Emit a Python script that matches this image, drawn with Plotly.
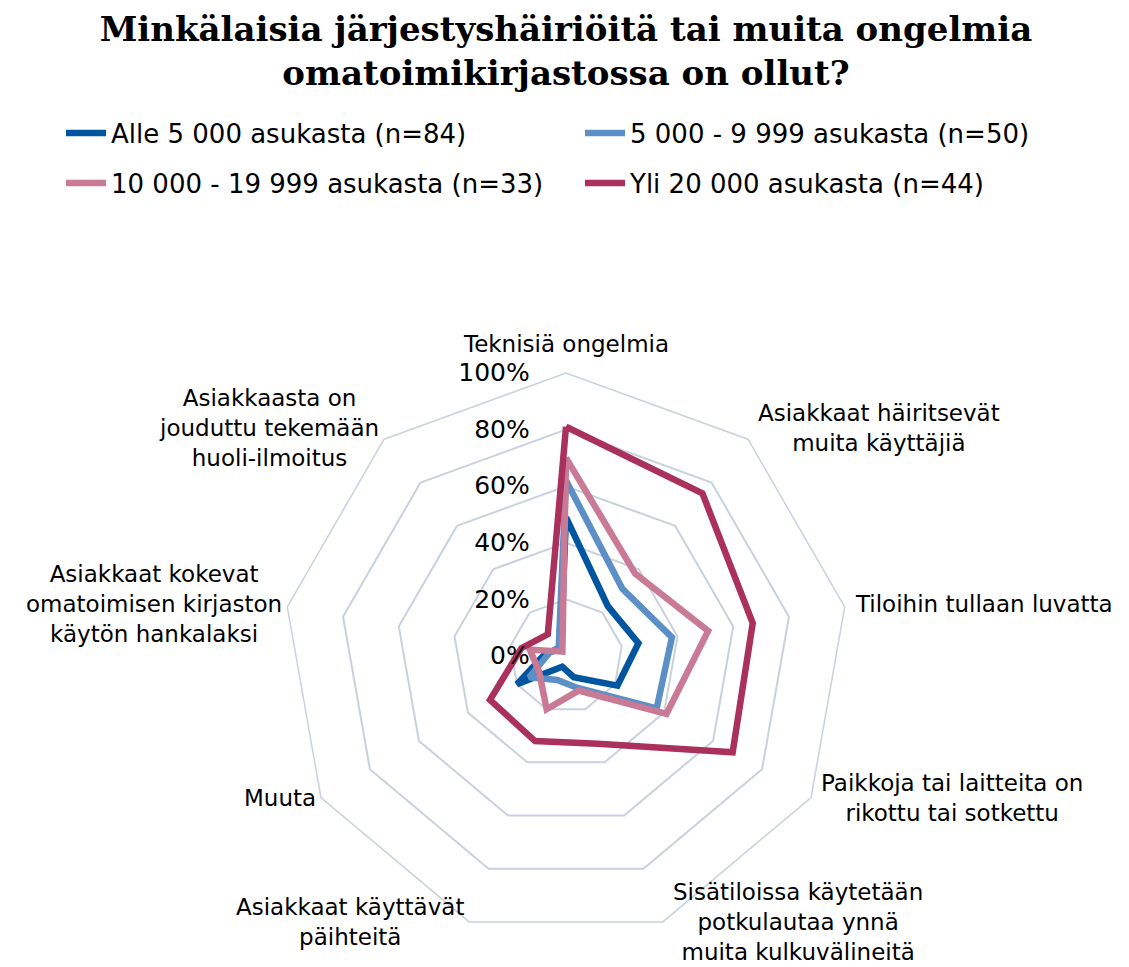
import math
import plotly.graph_objects as go

categories = [
    "Teknisiä ongelmia",
    "Asiakkaat häiritsevät muita käyttäjiä",
    "Tiloihin tullaan luvatta",
    "Paikkoja tai laitteita on rikottu tai sotkettu",
    "Sisätiloissa käytetään potkulautaa ynnä muita kulkuvälineitä",
    "Asiakkaat käyttävät päihteitä",
    "Muuta",
    "Asiakkaat kokevat omatoimisen kirjaston käytön hankalaksi",
    "Asiakkaasta on jouduttu tekemään huoli-ilmoitus",
]
category_labels = [
    "Teknisiä ongelmia",
    "Asiakkaat häiritsevät<br>muita käyttäjiä",
    "Tiloihin tullaan luvatta",
    "Paikkoja tai laitteita on<br>rikottu tai sotkettu",
    "Sisätiloissa käytetään<br>potkulautaa ynnä<br>muita kulkuvälineitä",
    "Asiakkaat käyttävät<br>päihteitä",
    "Muuta",
    "Asiakkaat kokevat<br>omatoimisen kirjaston<br>käytön hankalaksi",
    "Asiakkaasta on<br>jouduttu tekemään<br>huoli-ilmoitus",
]

series_names = [
    "Alle 5 000 asukasta (n=84)",
    "5 000 - 9 999 asukasta (n=50)",
    "10 000 - 19 999 asukasta (n=33)",
    "Yli 20 000 asukasta (n=44)",
]
alle_5000 = [0.49, 0.23, 0.26, 0.21, 0.08, 0.04, 0.20, 0.07, 0.03]
v_5000_9999 = [0.62, 0.31, 0.38, 0.37, 0.12, 0.09, 0.15, 0.06, 0.04]
v_10000_19999 = [0.70, 0.38, 0.51, 0.41, 0.13, 0.20, 0.11, 0.13, 0.02]
yli_20000 = [0.81, 0.75, 0.67, 0.68, 0.33, 0.32, 0.31, 0.16, 0.10]
series_values = [alle_5000, v_5000_9999, v_10000_19999, yli_20000]
series_colors = ["#0055A0", "#5B8FC6", "#C97A95", "#A9315B"]

radial_tickvals = [0, 0.2, 0.4, 0.6, 0.8, 1.0]
radial_ticktext = ["0%", "20%", "40%", "60%", "80%", "100%"]

grid_color = "#C9D1DD"
W, H = 1129, 967
cx, cy, R = 566, 656, 283

# one legend per entry: 2 columns x 2 rows
legend_ids = ["legend", "legend2", "legend3", "legend4"]
legend_x_px = [61, 580, 61, 580]
legend_y_px = [133, 133, 183, 183]

fig = go.Figure()
for name, vals, col, lg in zip(series_names, series_values, series_colors, legend_ids):
    fig.add_trace(go.Scatterpolar(
        r=vals + [vals[0]],
        theta=categories + [categories[0]],
        mode="lines",
        name=name,
        line=dict(color=col, width=6.5),
        legend=lg,
        showlegend=True,
    ))

legend_layouts = {}
for lg, lx, ly in zip(legend_ids, legend_x_px, legend_y_px):
    legend_layouts[lg] = dict(
        x=lx / W, y=1 - ly / H, xanchor="left", yanchor="middle",
        orientation="h", itemwidth=40,
        font=dict(family="DejaVu Sans", size=26, color="black"),
        bgcolor="rgba(0,0,0,0)",
    )

# category labels placed next to the outer polygon vertices
annotations = []
n = len(categories)
for k, lab in enumerate(category_labels):
    th = math.radians(360 * k / n)
    vx = cx + R * math.sin(th)
    vy = cy - R * math.cos(th)
    if k == 0:
        ax_, ay_, xa, ya = vx, vy - 14, "center", "bottom"
    elif math.sin(th) > 0:
        ax_, ay_, xa, ya = vx + 8, vy - 14 * max(math.cos(th), 0), "left", "middle"
    else:
        ax_, ay_, xa, ya = vx - 3, vy - 14 * max(math.cos(th), 0), "right", "middle"
    annotations.append(dict(
        text=lab, x=ax_ / W, y=1 - ay_ / H, xref="paper", yref="paper",
        xanchor=xa, yanchor=ya, align="center", showarrow=False,
        font=dict(family="DejaVu Sans", size=23, color="black"),
    ))

fig.update_layout(
    width=W, height=H,
    margin=dict(l=0, r=0, t=0, b=0),
    paper_bgcolor="white",
    showlegend=True,
    font=dict(family="DejaVu Sans", color="black"),
    title=dict(
        text="<b>Minkälaisia järjestyshäiriöitä tai muita ongelmia<br>omatoimikirjastossa on ollut?</b>",
        x=cx / W, xanchor="center", xref="paper",
        y=1 - 41 / H, yanchor="top", yref="container",
        font=dict(family="DejaVu Serif", size=34, color="black"),
    ),
    annotations=annotations,
    polar=dict(
        domain=dict(x=[(cx - R) / W, (cx + R) / W], y=[(H - cy - R) / H, (H - cy + R) / H]),
        gridshape="linear",
        bgcolor="white",
        angularaxis=dict(
            rotation=90, direction="clockwise",
            showgrid=False, showline=True, linecolor=grid_color, linewidth=1.5,
            ticks="", showticklabels=False,
        ),
        radialaxis=dict(
            range=[0, 1], tickmode="array", tickvals=radial_tickvals, ticktext=radial_ticktext,
            showline=False, showgrid=True, gridcolor=grid_color, gridwidth=1.5,
            angle=90, side="counterclockwise", tickangle=90,
            ticks="outside", ticklen=27, tickcolor="rgba(0,0,0,0)",
            tickfont=dict(family="DejaVu Sans", size=25, color="black"),
        ),
    ),
    **legend_layouts,
)

fig.write_html(
    "out.html",
    config={"displayModeBar": False},
    post_script="document.body.style.margin='0px';",
)
